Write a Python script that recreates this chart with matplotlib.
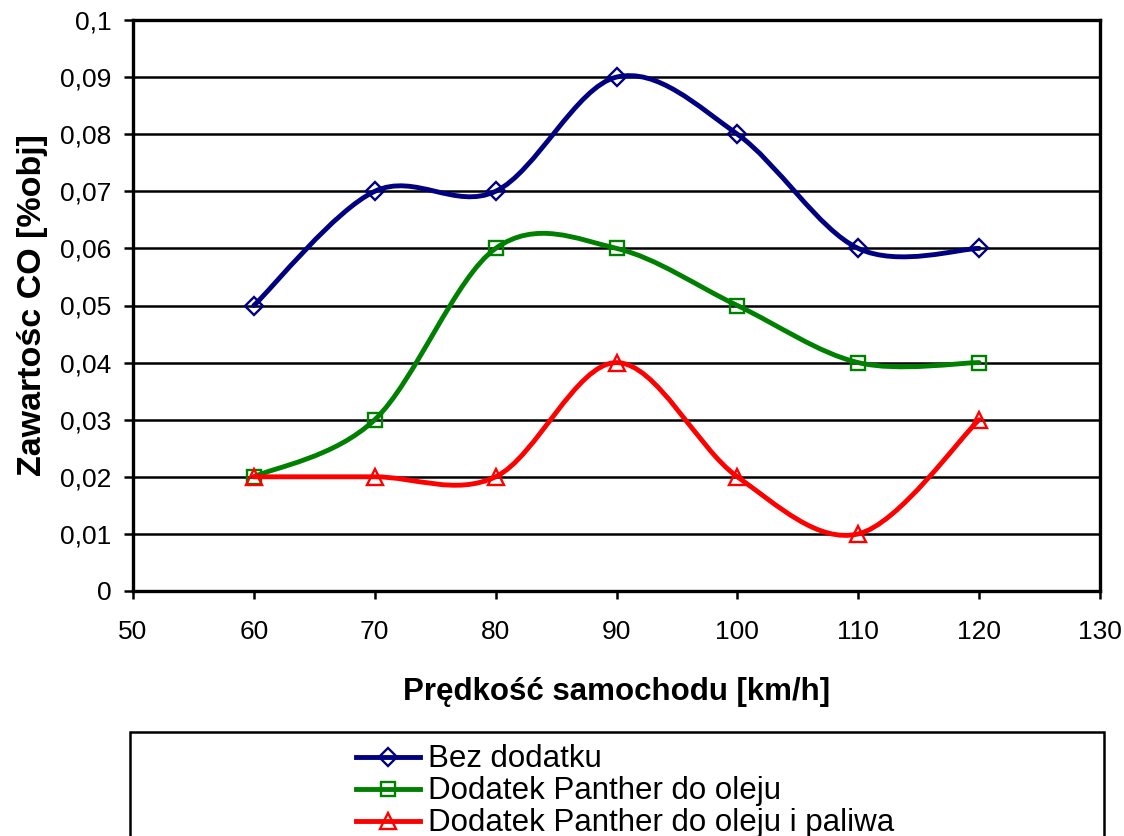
import matplotlib
matplotlib.use("Agg")
import matplotlib.pyplot as plt
import numpy as np
from matplotlib.path import Path
from matplotlib.patches import PathPatch, Rectangle
from matplotlib.lines import Line2D

plt.rcParams['font.family'] = ['Liberation Sans', 'DejaVu Sans']

# ---- data ----
speed = [60, 70, 80, 90, 100, 110, 120]
bez_dodatku = [0.05, 0.07, 0.07, 0.09, 0.08, 0.06, 0.06]
panther_olej = [0.02, 0.03, 0.06, 0.06, 0.05, 0.04, 0.04]
panther_olej_paliwo = [0.02, 0.02, 0.02, 0.04, 0.02, 0.01, 0.03]
series_labels = ["Bez dodatku", "Dodatek Panther do oleju", "Dodatek Panther do oleju i paliwa"]
x_ticks = [50, 60, 70, 80, 90, 100, 110, 120, 130]
y_ticks = [0, 0.01, 0.02, 0.03, 0.04, 0.05, 0.06, 0.07, 0.08, 0.09, 0.1]
y_tick_labels = ["0", "0,01", "0,02", "0,03", "0,04", "0,05", "0,06", "0,07", "0,08", "0,09", "0,1"]
x_label = "Prędkość samochodu [km/h]"
y_label = "Zawartośc CO [%obj]"

W, H = 1124, 836
fig = plt.figure(figsize=(W / 100, H / 100), dpi=100)
ax_l, ax_r, ax_t, ax_b = 133, 1100, 20, 591
ax = fig.add_axes([ax_l / W, 1 - ax_b / H, (ax_r - ax_l) / W, (ax_b - ax_t) / H])


def smooth_path(xs, ys):
    """Excel-style smoothed line: cubic Bezier segments through the data points."""
    pts = np.column_stack([xs, ys]).astype(float)
    n = len(pts)
    verts = [pts[0]]
    codes = [Path.MOVETO]
    for i in range(n - 1):
        p0 = pts[i - 1] if i > 0 else pts[i]
        p1 = pts[i]
        p2 = pts[i + 1]
        p3 = pts[i + 2] if i + 2 < n else pts[i + 1]
        verts += [p1 + (p2 - p0) / 6, p2 - (p3 - p1) / 6, p2]
        codes += [Path.CURVE4] * 3
    return Path(verts, codes)


styles = [
    dict(color="#000080", marker="D", ms=9.5),
    dict(color="#008000", marker="s", ms=10),
    dict(color="#FF0000", marker="^", ms=12),
]
data = [bez_dodatku, panther_olej, panther_olej_paliwo]
LW = 3.5

for k, (vals, st) in enumerate(zip(data, styles)):
    patch = PathPatch(smooth_path(speed, vals), fill=False, edgecolor=st["color"],
                      lw=LW, zorder=3 + k, capstyle="round", joinstyle="round")
    ax.add_patch(patch)
    ax.plot(speed, vals, linestyle="none", marker=st["marker"], ms=st["ms"],
            mfc="none", mec=st["color"], mew=1.7, zorder=3.5 + k)

ax.set_xlim(50, 130)
ax.set_ylim(0, 0.1)
ax.set_xticks(x_ticks)
ax.set_xticklabels([str(t) for t in x_ticks])
ax.set_yticks(y_ticks)
ax.set_yticklabels(y_tick_labels)

ax.yaxis.grid(True, color="black", lw=1.8, zorder=1)
ax.set_axisbelow(True)
for s in ax.spines.values():
    s.set_linewidth(2.4)
    s.set_color("black")

ax.tick_params(axis="x", direction="out", length=6, width=1.8, labelsize=19, pad=15)
ax.tick_params(axis="y", direction="out", length=6.5, width=1.8, labelsize=19, pad=9)

ax.set_xlabel(x_label, fontsize=22.5, fontweight="bold", va="center", ha="center")
ax.xaxis.set_label_coords(0.5, -(692 - ax_b) / (ax_b - ax_t))
ax.set_ylabel(y_label, fontsize=24.5, fontweight="bold", va="center", ha="center")
ax.yaxis.set_label_coords(-(ax_l - 33) / (ax_r - ax_l), 0.5)

# ---- legend (frame runs past bottom edge) ----
frame = Rectangle((130 / W, -0.1), (1104 - 130) / W, 0.1 + (1 - 732 / H),
                  transform=fig.transFigure, fill=False, edgecolor="black",
                  lw=1.8, clip_on=False)
fig.add_artist(frame)
row_y = [757, 789, 821]
base_y = [767, 799, 831]
for lab, st, yc, yb in zip(series_labels, styles, row_y, base_y):
    fig.add_artist(Line2D([356 / W, 420 / W], [1 - yc / H, 1 - yc / H],
                          transform=fig.transFigure, color=st["color"], lw=LW))
    fig.add_artist(Line2D([388 / W], [1 - yc / H], transform=fig.transFigure,
                          linestyle="none", marker=st["marker"], ms=st["ms"],
                          mfc="none", mec=st["color"], mew=1.7))
    fig.text(428 / W, 1 - yb / H, lab, fontsize=22.5, va="baseline", ha="left")

fig.savefig("out.png", dpi=100)
